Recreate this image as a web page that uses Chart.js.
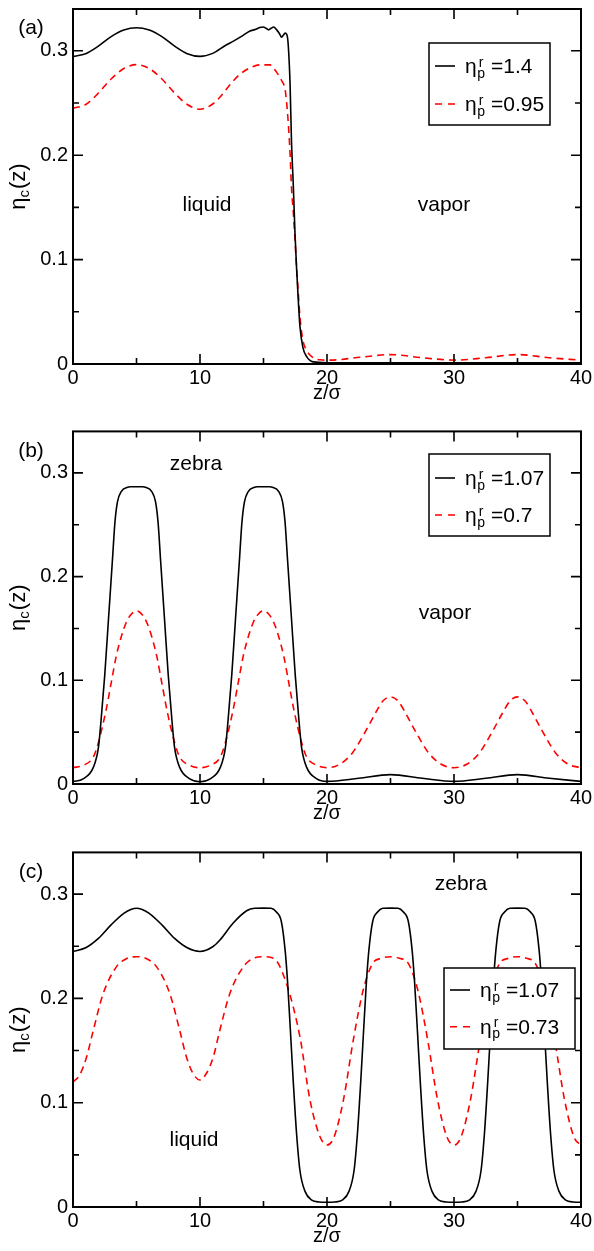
<!DOCTYPE html>
<html><head><meta charset="utf-8">
<script src="https://cdn.jsdelivr.net/npm/chart.js@4.4.0/dist/chart.umd.min.js"></script>
<style>
html,body{margin:0;padding:0;background:#fff;}
body{width:594px;height:1251px;position:relative;overflow:hidden;}
.p{position:absolute;left:0;width:594px;}
canvas{display:block;}
</style></head><body>
<div class="p" style="top:0;height:420px"><canvas id="ca" width="594" height="420"></canvas></div>
<div class="p" style="top:420px;height:420px"><canvas id="cb" width="594" height="420"></canvas></div>
<div class="p" style="top:840px;height:411px"><canvas id="cc" width="594" height="411"></canvas></div>
<script>
// ---- axis ticks ----
const xTicks = [0, 10, 20, 30, 40];
const xTickLabels = ['0', '10', '20', '30', '40'];
const xMinorTicks = [5, 15, 25, 35];
const yTicks = [0, 0.1, 0.2, 0.3];
const yTickLabels = ['0', '0.1', '0.2', '0.3'];
const yMinorTicks = [0.05, 0.15, 0.25];

// ---- panel (a) ----
const zA1 = [0,1,2,3,4,5,6,7,8,9,10,11,12,12.6,13.3,13.9,14.4,14.7,15.0,15.2,15.4,15.6,15.8,16.04,16.25,16.43,16.57,16.7,16.87,16.95,17.09,17.2,17.35,17.48,17.6,17.74,17.87,18.1,18.4,18.9,20,25,30,35,40];
const etaA1 = [0.2946,0.2972,0.3045,0.3135,0.3198,0.322,0.3198,0.3135,0.3045,0.2972,0.2946,0.2975,0.305,0.309,0.314,0.3187,0.3205,0.3222,0.3228,0.3215,0.3200,0.3215,0.3228,0.320,0.3165,0.313,0.3150,0.317,0.314,0.305,0.269,0.215,0.17,0.125,0.093,0.061,0.036,0.016,0.007,0.002,0.0012,0.0012,0.0012,0.0012,0.0012];
const zA2 = [0,1,2,3,4,5,6,7,8,9,10,11,11.6,12.4,13.1,14,14.7,15.5,16.0,16.4,16.7,16.8,16.95,17.09,17.2,17.35,17.48,17.6,17.74,17.87,18.1,18.4,18.8,19.45,20.2,22.6,25,27.5,30,32.5,35,37.5,40];
const etaA2 = [0.245,0.2485,0.2595,0.273,0.283,0.2867,0.283,0.273,0.2595,0.2485,0.244,0.249,0.256,0.268,0.277,0.284,0.2865,0.2865,0.280,0.272,0.263,0.253,0.231,0.202,0.17,0.145,0.119,0.093,0.068,0.045,0.023,0.013,0.007,0.004,0.0037,0.0064,0.009,0.006,0.0037,0.006,0.009,0.006,0.0037];
const legendA = ['1.4', '0.95'];

// ---- panel (b) ----
const zB1 = [0,0.8,1.6,2.0,2.2,2.5,2.8,3.1,3.3,3.5,3.8,4.3,4.5,5.5,5.7,6.2,6.5,6.7,6.9,7.2,7.5,7.8,8.0,8.4,9.2,
  10,10.8,11.6,12.0,12.2,12.5,12.8,13.1,13.3,13.5,13.8,14.3,14.5,15.5,15.7,16.2,16.5,16.7,16.9,17.2,17.5,17.8,18.0,18.4,19.2,
  20,22.5,25,27.5,30,32.5,35,37.5,40];
const etaB1 = [0.0022,0.005,0.016,0.035,0.06,0.105,0.16,0.215,0.252,0.272,0.282,0.2862,0.2867,0.2867,0.2862,0.282,0.272,0.252,0.215,0.16,0.105,0.06,0.035,0.016,0.005,
  0.0022,0.005,0.016,0.035,0.06,0.105,0.16,0.215,0.252,0.272,0.282,0.2862,0.2867,0.2867,0.2862,0.282,0.272,0.252,0.215,0.16,0.105,0.06,0.035,0.016,0.005,
  0.0025,0.0055,0.009,0.0055,0.0025,0.0055,0.009,0.0055,0.0025];
const zB2 = [0,0.8,1.6,2.0,2.6,3.0,3.4,3.8,4.2,4.6,5,5.4,5.8,6.2,6.6,7.0,7.4,8.0,8.4,9.2,
  10,10.8,11.6,12.0,12.6,13.0,13.4,13.8,14.2,14.6,15,15.4,15.8,16.2,16.6,17.0,17.4,18.0,18.4,19.2,
  20,21,22,23,23.8,24.4,25,25.6,26.2,27,28,29,30,31,32,33,33.8,34.4,35,35.6,36.2,37,38,39,40];
const etaB2 = [0.0157,0.018,0.026,0.04,0.071,0.097,0.123,0.142,0.156,0.164,0.167,0.164,0.156,0.142,0.123,0.097,0.071,0.04,0.026,0.018,
  0.0157,0.018,0.026,0.04,0.071,0.097,0.123,0.142,0.156,0.164,0.167,0.164,0.156,0.142,0.123,0.097,0.071,0.04,0.026,0.018,
  0.0157,0.019,0.03,0.05,0.068,0.08,0.084,0.08,0.068,0.05,0.03,0.019,0.0157,0.019,0.03,0.05,0.068,0.08,0.084,0.08,0.068,0.05,0.03,0.019,0.0157];
const legendB = ['1.07', '0.7'];

// ---- panel (c) ----
const zC1 = [0,1,2,3,4,4.6,5,5.4,6,7,8,9,10,11,11.57,12.6,13.67,14.3,15,15.6,16.0,16.4,16.7,16.9,17.1,17.35,17.6,17.87,18.27,18.8,19.4,
  20,20.6,21.2,21.73,22.13,22.4,22.65,22.9,23.1,23.3,23.6,24.0,24.4,25,25.6,26.0,26.4,26.7,26.9,27.1,27.35,27.6,27.87,28.27,28.8,29.4,
  30,30.6,31.2,31.73,32.13,32.4,32.65,32.9,33.1,33.3,33.6,34.0,34.4,35,35.6,36.0,36.4,36.7,36.9,37.1,37.35,37.6,37.87,38.27,38.8,39.4,40];
const etaC1 = [0.245,0.2485,0.2575,0.2705,0.2815,0.2855,0.2865,0.2855,0.2815,0.2705,0.2575,0.2485,0.245,0.2495,0.256,0.272,0.284,0.2864,0.2866,0.2864,0.283,0.274,0.2465,0.215,0.173,0.119,0.071,0.035,0.015,0.0067,0.0048,
  0.0045,0.0048,0.0067,0.015,0.035,0.071,0.119,0.173,0.215,0.2465,0.274,0.283,0.2864,0.2866,0.2864,0.283,0.274,0.2465,0.215,0.173,0.119,0.071,0.035,0.015,0.0067,0.0048,
  0.0045,0.0048,0.0067,0.015,0.035,0.071,0.119,0.173,0.215,0.2465,0.274,0.283,0.2864,0.2866,0.2864,0.283,0.274,0.2465,0.215,0.173,0.119,0.071,0.035,0.015,0.0067,0.0048,0.0045];
const zC2 = [0,0.5,1.05,1.57,2.36,3.4,4.2,5,5.8,6.6,7.64,8.43,8.95,9.5,10,10.5,11.05,11.57,12.36,13.4,14.2,15,15.8,16.8,17.87,18.66,19.45,
  20,20.55,21.3,22.07,22.85,23.6,24.3,25,25.7,26.4,27.15,27.93,28.7,29.45,30,30.55,31.3,32.07,32.85,33.6,34.3,35,35.7,36.4,37.15,37.93,38.7,39.45,40];
const etaC2 = [0.12,0.126,0.143,0.168,0.204,0.23,0.238,0.24,0.238,0.23,0.204,0.168,0.143,0.127,0.1218,0.128,0.144,0.17,0.205,0.23,0.2385,0.24,0.2385,0.2145,0.163,0.1026,0.0674,
  0.0594,0.067,0.103,0.16,0.208,0.2336,0.2385,0.24,0.2385,0.2336,0.208,0.16,0.103,0.067,0.0594,0.067,0.103,0.16,0.208,0.2336,0.2385,0.24,0.2385,0.2336,0.208,0.16,0.103,0.067,0.0594];
const legendC = ['1.07', '0.73'];

const FONT = '"Liberation Sans", Arial, Helvetica, sans-serif';

function pts(z, v) { return z.map((x, i) => ({ x: x, y: v[i] })); }

function decoPlugin(cfg) {
  return {
    id: 'deco',
    afterDraw(chart) {
      const ctx = chart.ctx, a = chart.chartArea, xs = chart.scales.x, ys = chart.scales.y;
      ctx.save();
      // inward tick marks on all four sides
      ctx.strokeStyle = '#000';
      ctx.lineWidth = 1.6;
      ctx.beginPath();
      const xt = (vals, len) => vals.forEach(v => { const p = xs.getPixelForValue(v);
        ctx.moveTo(p, a.bottom); ctx.lineTo(p, a.bottom - len); ctx.moveTo(p, a.top); ctx.lineTo(p, a.top + len); });
      const yt = (vals, len) => vals.forEach(v => { const p = ys.getPixelForValue(v);
        ctx.moveTo(a.left, p); ctx.lineTo(a.left + len, p); ctx.moveTo(a.right, p); ctx.lineTo(a.right - len, p); });
      xt(xTicks, 10); xt(xMinorTicks, 6); yt(yTicks, 10); yt(yMinorTicks, 6);
      ctx.stroke();
      ctx.lineWidth = 2;
      ctx.strokeRect(a.left, a.top, a.right - a.left, a.bottom - a.top);

      ctx.fillStyle = '#000';
      // panel letter
      ctx.font = '21px ' + FONT;
      ctx.textAlign = 'center'; ctx.textBaseline = 'middle';
      ctx.fillText(cfg.letter, cfg.letterPos[0], cfg.letterPos[1]);
      // annotations
      cfg.notes.forEach(n => ctx.fillText(n[0], n[1], n[2]));

      // y-axis title  η_c(z), rotated
      ctx.save();
      ctx.translate(18, (a.top + a.bottom) / 2);
      ctx.rotate(-Math.PI / 2);
      ctx.textAlign = 'left'; ctx.textBaseline = 'alphabetic';
      const fBig = '22px ' + FONT, fSmall = '15px ' + FONT;
      ctx.font = fBig; const w1 = ctx.measureText('η').width, w3 = ctx.measureText('(z)').width;
      ctx.font = fSmall; const w2 = ctx.measureText('c').width;
      const x0 = -(w1 + w2 + w3 + 1) / 2;
      ctx.font = fBig; ctx.fillText('η', x0, 7);
      ctx.font = fSmall; ctx.fillText('c', x0 + w1, 11);
      ctx.font = fBig; ctx.fillText('(z)', x0 + w1 + w2 + 1, 7);
      ctx.restore();

      // legend
      const L = cfg.legend;
      ctx.fillStyle = '#fff';
      ctx.fillRect(L.x, L.y, L.w, L.h);
      ctx.strokeStyle = '#000'; ctx.lineWidth = 1.5;
      ctx.strokeRect(L.x, L.y, L.w, L.h);
      const styles = [{ c: '#000', d: [] }, { c: '#ff0000', d: [7, 6] }];
      L.rows.forEach((ry, i) => {
        ctx.strokeStyle = styles[i].c; ctx.lineWidth = 1.6; ctx.setLineDash(styles[i].d);
        ctx.beginPath(); ctx.moveTo(L.lx0, ry); ctx.lineTo(L.lx1, ry); ctx.stroke();
        ctx.setLineDash([]);
        ctx.fillStyle = '#000'; ctx.textAlign = 'left'; ctx.textBaseline = 'alphabetic';
        ctx.font = '21px ' + FONT; ctx.fillText('η', L.tx, ry + 7);
        const we = ctx.measureText('η').width;
        ctx.font = '14px ' + FONT;
        ctx.fillText('r', L.tx + we + 2, ry + 0.5);
        ctx.fillText('p', L.tx + we + 0.5, ry + 11.5);
        ctx.font = '21px ' + FONT;
        ctx.fillText('=' + L.labels[i], L.tx + 26, ry + 7);
      });
      ctx.restore();
    }
  };
}

function makeChart(id, cfg) {
  const H = cfg.height;
  return new Chart(document.getElementById(id), {
    type: 'line',
    data: { datasets: [
      { data: pts(cfg.z1, cfg.v1), borderColor: '#000', borderWidth: 1.6, pointRadius: 0,
        cubicInterpolationMode: 'monotone', fill: false },
      { data: pts(cfg.z2, cfg.v2), borderColor: '#ff0000', borderWidth: 1.6, borderDash: [7, 5], pointRadius: 0,
        cubicInterpolationMode: 'monotone', fill: false }
    ] },
    options: {
      responsive: false, animation: false, devicePixelRatio: 1, events: [],
      layout: { padding: { left: 0, right: 13, top: cfg.top, bottom: 0 } },
      plugins: { legend: { display: false }, tooltip: { enabled: false } },
      scales: {
        x: {
          type: 'linear', min: 0, max: 40,
          grid: { display: false, drawTicks: false }, border: { display: false },
          afterBuildTicks: s => { s.ticks = xTicks.map(v => ({ value: v })); },
          afterFit: s => { s.height = H - cfg.bottom; s.paddingLeft = 0; s.paddingRight = 0; },
          ticks: { autoSkip: false, maxRotation: 0, padding: 2, color: '#000',
            font: { family: FONT, size: 20 }, callback: (v, i) => xTickLabels[i] },
          title: { display: true, text: 'z/σ', color: '#000', font: { family: FONT, size: 20 },
            padding: { top: 0, bottom: cfg.titlePad } }
        },
        y: {
          type: 'linear', min: 0, max: 0.34,
          grid: { display: false, drawTicks: false }, border: { display: false },
          afterBuildTicks: s => { s.ticks = yTicks.map(v => ({ value: v })); },
          afterFit: s => { s.width = 73; s.paddingTop = 0; s.paddingBottom = 0; },
          ticks: { padding: 5, color: '#000', font: { family: FONT, size: 20 },
            callback: (v, i) => yTickLabels[i] }
        }
      }
    },
    plugins: [decoPlugin(cfg)]
  });
}

makeChart('ca', { height: 420, top: 9, bottom: 364, titlePad: 15,
  z1: zA1, v1: etaA1, z2: zA2, v2: etaA2, letter: '(a)', letterPos: [31, 28],
  notes: [['liquid', 207, 205], ['vapor', 444, 205]],
  legend: { x: 429, y: 43, w: 121, h: 82, lx0: 435, lx1: 455, tx: 465, rows: [66, 104], labels: legendA } });

makeChart('cb', { height: 420, top: 11.4, bottom: 364, titlePad: 15,
  z1: zB1, v1: etaB1, z2: zB2, v2: etaB2, letter: '(b)', letterPos: [31, 31],
  notes: [['zebra', 196, 44], ['vapor', 445, 193]],
  legend: { x: 429, y: 34, w: 121, h: 82, lx0: 435, lx1: 455, tx: 465, rows: [58, 95], labels: legendB } });

makeChart('cc', { height: 411, top: 12.4, bottom: 367, titlePad: 3,
  z1: zC1, v1: etaC1, z2: zC2, v2: etaC2, letter: '(c)', letterPos: [31, 32],
  notes: [['zebra', 461, 44], ['liquid', 194, 300]],
  legend: { x: 444, y: 128, w: 131, h: 81, lx0: 450, lx1: 470, tx: 480, rows: [150, 186.7], labels: legendC } });
</script>
</body></html>
